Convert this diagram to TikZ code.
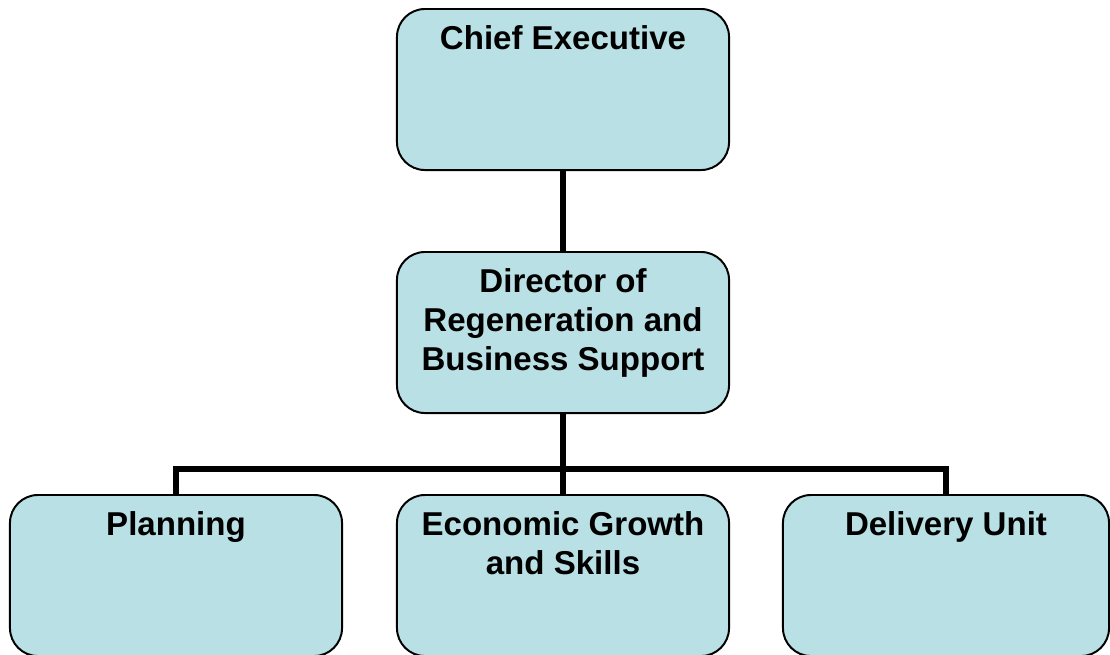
\documentclass[tikz,border=0pt]{standalone}
\usepackage{fontspec}
\setmainfont{Liberation Sans}
\usepackage{xcolor}
\usetikzlibrary{positioning}

\definecolor{boxfill}{RGB}{185,224,228}
\newcommand{\boxtext}[2][8.3cm]{\parbox[c][4.025cm][t]{#1}{\centering\vspace*{0.42cm}#2}}

\begin{document}
\begin{tikzpicture}[x=0.025cm,y=-0.025cm]
\tikzstyle{post}=[draw=black,line width=1.4pt,fill=boxfill,rounded corners=0.7cm,inner sep=0pt,font=\fontsize{23.5}{27.7}\selectfont\bfseries]
\tikzstyle{conn}=[draw=black,line width=3.6pt]
\clip (0,0) rectangle (1110,654);
% boxes
\node [post] (ceo) at (563,89.5) {\boxtext{Chief Executive}};
\node [post] (dir) at (563,332.5) {\boxtext{Director of\\Regeneration and\\Business Support}};
\node [post] (plan) at (176,575.5) {\boxtext{Planning}};
\node [post] (growth) at (563,575.5) {\boxtext{Economic Growth\\and Skills}};
\node [post] (unit) at (946,575.5) {\boxtext[8.15cm]{Delivery Unit}};
% lines
\coordinate (bus) at (563,469);
\draw [conn] (ceo) -- (dir);
\draw [conn] (dir) -- (bus);
\draw [conn] (plan.north) |- (bus) -| (unit.north);
\draw [conn] (bus) -- (growth);
\end{tikzpicture}
\end{document}
